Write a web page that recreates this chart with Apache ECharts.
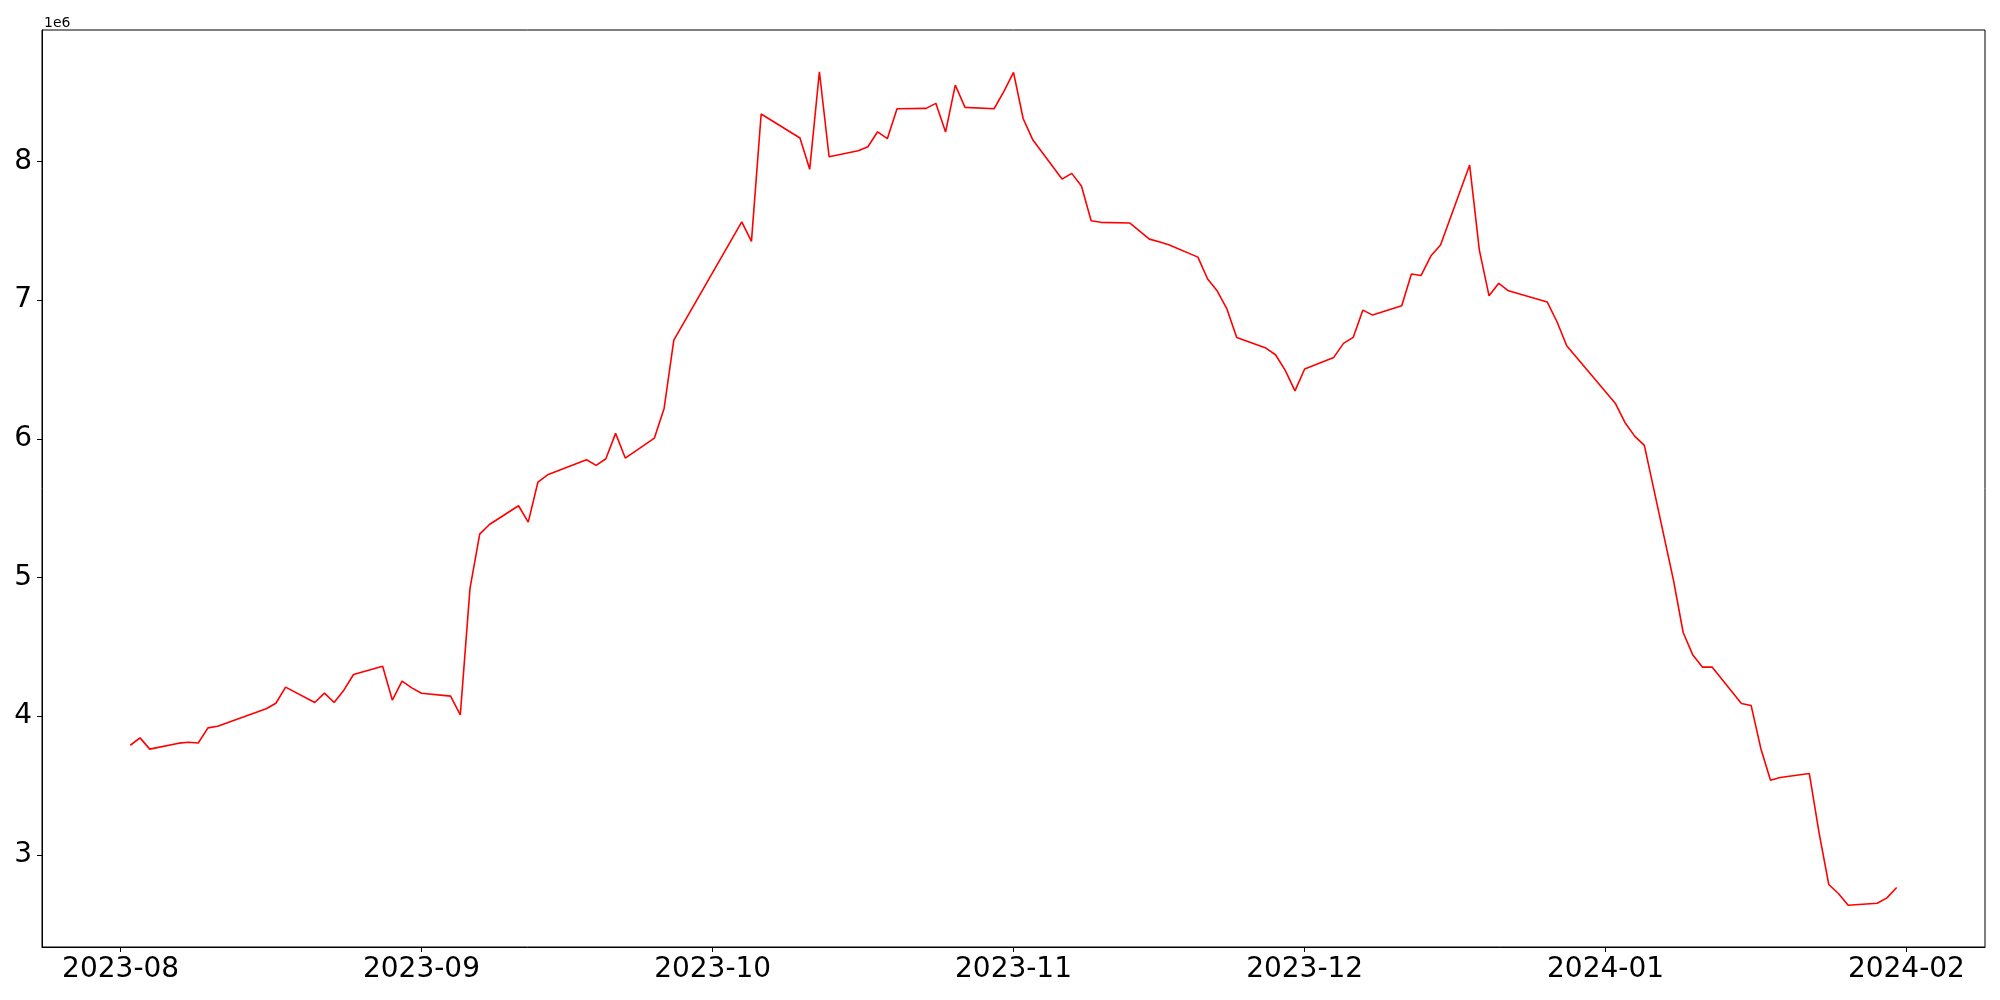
<!DOCTYPE html>
<html>
<head>
<meta charset="utf-8">
<script src="https://cdn.jsdelivr.net/npm/echarts@6/dist/echarts.min.js"></script>
<style>
  html, body { margin: 0; padding: 0; background: #fff; }
  #chart { width: 2000px; height: 1000px; }
</style>
</head>
<body>
<div id="chart"></div>
<script>
// trading days (KRX calendar) and values, in units of 1e6
const dates = [
  '2023-08-02', '2023-08-03', '2023-08-04', '2023-08-07', '2023-08-08', '2023-08-09', '2023-08-10', '2023-08-11',
  '2023-08-14', '2023-08-16', '2023-08-17', '2023-08-18', '2023-08-21', '2023-08-22', '2023-08-23', '2023-08-24',
  '2023-08-25', '2023-08-28', '2023-08-29', '2023-08-30', '2023-08-31', '2023-09-01', '2023-09-04', '2023-09-05',
  '2023-09-06', '2023-09-07', '2023-09-08', '2023-09-11', '2023-09-12', '2023-09-13', '2023-09-14', '2023-09-15',
  '2023-09-18', '2023-09-19', '2023-09-20', '2023-09-21', '2023-09-22', '2023-09-25', '2023-09-26', '2023-09-27',
  '2023-10-04', '2023-10-05', '2023-10-06', '2023-10-10', '2023-10-11', '2023-10-12', '2023-10-13', '2023-10-16',
  '2023-10-17', '2023-10-18', '2023-10-19', '2023-10-20', '2023-10-23', '2023-10-24', '2023-10-25', '2023-10-26',
  '2023-10-27', '2023-10-30', '2023-10-31', '2023-11-01', '2023-11-02', '2023-11-03', '2023-11-06', '2023-11-07',
  '2023-11-08', '2023-11-09', '2023-11-10', '2023-11-13', '2023-11-14', '2023-11-15', '2023-11-16', '2023-11-17',
  '2023-11-20', '2023-11-21', '2023-11-22', '2023-11-23', '2023-11-24', '2023-11-27', '2023-11-28', '2023-11-29',
  '2023-11-30', '2023-12-01', '2023-12-04', '2023-12-05', '2023-12-06', '2023-12-07', '2023-12-08', '2023-12-11',
  '2023-12-12', '2023-12-13', '2023-12-14', '2023-12-15', '2023-12-18', '2023-12-19', '2023-12-20', '2023-12-21',
  '2023-12-22', '2023-12-26', '2023-12-27', '2023-12-28', '2024-01-02', '2024-01-03', '2024-01-04', '2024-01-05',
  '2024-01-08', '2024-01-09', '2024-01-10', '2024-01-11', '2024-01-12', '2024-01-15', '2024-01-16', '2024-01-17',
  '2024-01-18', '2024-01-19', '2024-01-22', '2024-01-23', '2024-01-24', '2024-01-25', '2024-01-26', '2024-01-29',
  '2024-01-30', '2024-01-31'
]
const values = [
  3.790, 3.843, 3.762, 3.805, 3.812, 3.806, 3.915, 3.927,
  4.003, 4.053, 4.093, 4.209, 4.098, 4.166, 4.098, 4.187,
  4.300, 4.360, 4.115, 4.252, 4.204, 4.165, 4.144, 4.009,
  4.921, 5.312, 5.382, 5.517, 5.399, 5.688, 5.740, 5.767,
  5.849, 5.808, 5.856, 6.039, 5.861, 6.005, 6.219, 6.712,
  7.565, 7.424, 8.342, 8.169, 7.943, 8.647, 8.034, 8.077,
  8.106, 8.214, 8.164, 8.380, 8.383, 8.419, 8.212, 8.551,
  8.390, 8.380, 8.503, 8.643, 8.308, 8.154, 7.873, 7.914,
  7.823, 7.572, 7.561, 7.556, 7.498, 7.440, 7.421, 7.399,
  7.310, 7.152, 7.065, 6.935, 6.731, 6.654, 6.606, 6.493,
  6.346, 6.503, 6.587, 6.688, 6.731, 6.928, 6.892, 6.959,
  7.188, 7.178, 7.318, 7.397, 7.974, 7.361, 7.031, 7.121,
  7.067, 6.986, 6.844, 6.671, 6.257, 6.118, 6.019, 5.952,
  4.981, 4.603, 4.440, 4.353, 4.353, 4.091, 4.077, 3.767,
  3.538, 3.557, 3.586, 3.160, 2.786, 2.721, 2.636, 2.651,
  2.689, 2.764
]
const xTicks = ['2023-08-01', '2023-09-01', '2023-10-01', '2023-11-01', '2023-12-01', '2024-01-01', '2024-02-01']
const yTicks = [3, 4, 5, 6, 7, 8]

function toTime(s) {
  const p = s.split('-')
  return Date.UTC(+p[0], +p[1] - 1, +p[2])
}

const DAY = 24 * 3600 * 1000
const xMin = toTime('2023-08-02') - 9.1 * DAY
const xMax = toTime('2024-01-31') + 9.1 * DAY
const xTickTimes = xTicks.map(toTime)
const FONT = 'DejaVu Sans'

const chart = echarts.init(document.getElementById('chart'))
chart.setOption({
  animation: false,
  backgroundColor: '#fff',
  title: {
    text: '1e6',
    left: 39,
    top: 11,
    textStyle: { fontFamily: FONT, fontSize: 14, fontWeight: 'normal', color: '#000' }
  },
  grid: {
    left: 42,
    right: 15,
    top: 30,
    bottom: 53,
    show: true,
    borderColor: '#000',
    borderWidth: 1,
    containLabel: false
  },
  xAxis: {
    type: 'value',
    min: xMin,
    max: xMax,
    axisLine: { show: true, lineStyle: { color: '#000', width: 1 } },
    axisTick: { show: true, length: 5, lineStyle: { color: '#000', width: 1 }, customValues: xTickTimes },
    splitLine: { show: false },
    axisLabel: {
      customValues: xTickTimes,
      margin: 9,
      fontFamily: FONT,
      fontSize: 28,
      color: '#000',
      formatter: function (v) {
        const d = new Date(v)
        const m = d.getUTCMonth() + 1
        return d.getUTCFullYear() + '-' + (m < 10 ? '0' + m : m)
      }
    }
  },
  yAxis: {
    type: 'value',
    min: 2.335,
    max: 8.948,
    axisLine: { show: true, lineStyle: { color: '#000', width: 1 } },
    axisTick: { show: true, length: 5, lineStyle: { color: '#000', width: 1 }, customValues: yTicks },
    splitLine: { show: false },
    axisLabel: {
      customValues: yTicks,
      margin: 10,
      fontFamily: FONT,
      fontSize: 28,
      color: '#000'
    }
  },
  series: [
    {
      type: 'line',
      data: dates.map((d, i) => [toTime(d), values[i]]),
      showSymbol: false,
      symbol: 'none',
      lineStyle: { color: '#ff0000', width: 1.6 },
      itemStyle: { color: '#ff0000' }
    }
  ]
})
</script>
</body>
</html>
